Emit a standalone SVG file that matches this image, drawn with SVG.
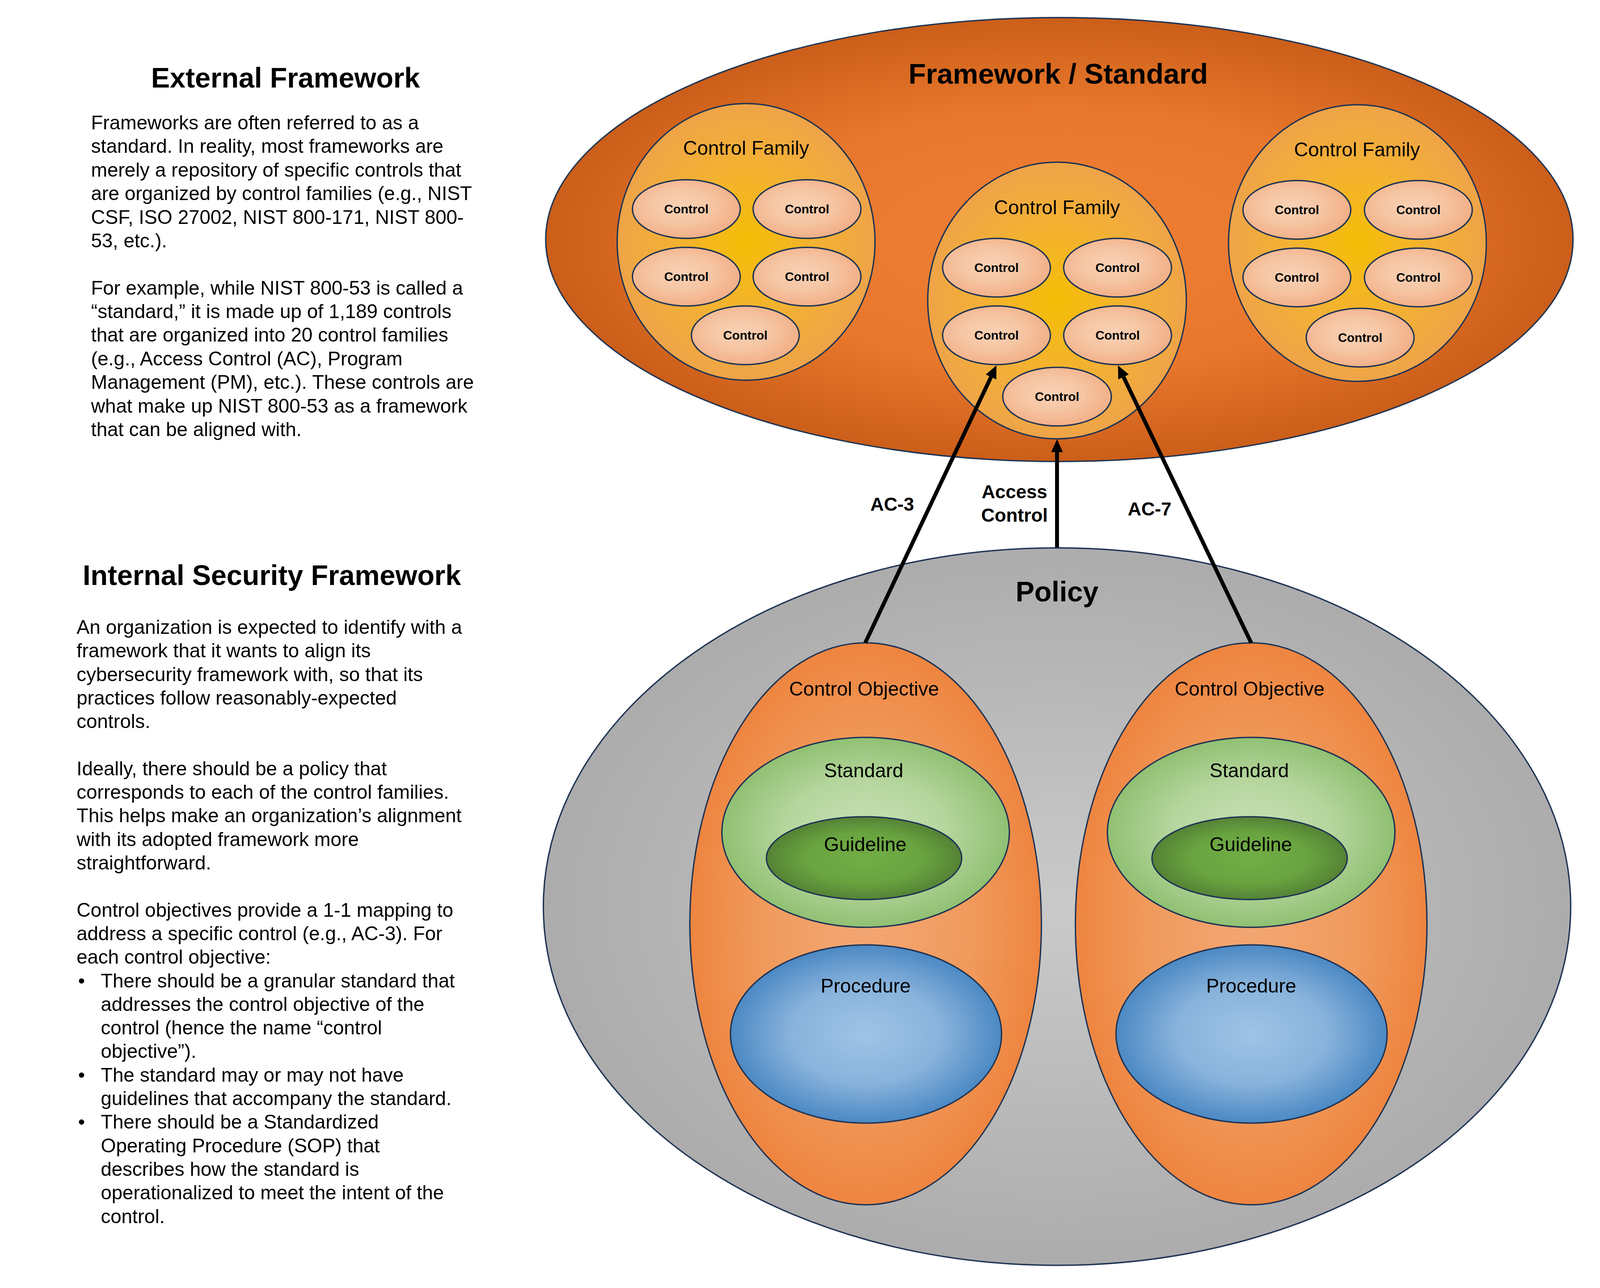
<svg xmlns="http://www.w3.org/2000/svg" width="4138" height="3296" viewBox="0 0 4138 3296">
<defs>
<radialGradient id="gFw" cx="50%" cy="50%" r="50%"><stop offset="0" stop-color="#EF8036"/><stop offset="0.6" stop-color="#E8772C"/><stop offset="1" stop-color="#CB5E19"/></radialGradient>
<radialGradient id="gFam" cx="50%" cy="50%" r="50%"><stop offset="0" stop-color="#F5BE05"/><stop offset="0.55" stop-color="#F3B133"/><stop offset="1" stop-color="#EFA448"/></radialGradient>
<radialGradient id="gCtl" cx="45%" cy="45%" r="55%"><stop offset="0" stop-color="#F8D1B5"/><stop offset="0.5" stop-color="#F6C6A4"/><stop offset="1" stop-color="#F2B088"/></radialGradient>
<radialGradient id="gPol" cx="50%" cy="50%" r="50%"><stop offset="0" stop-color="#CACACA"/><stop offset="1" stop-color="#ACACAC"/></radialGradient>
<radialGradient id="gCO" cx="50%" cy="50%" r="50%"><stop offset="0" stop-color="#F3A774"/><stop offset="0.6" stop-color="#F09A5C"/><stop offset="1" stop-color="#EE8540"/></radialGradient>
<radialGradient id="gStd" cx="50%" cy="50%" r="50%"><stop offset="0" stop-color="#C7E0B5"/><stop offset="0.55" stop-color="#B6D69E"/><stop offset="1" stop-color="#90C073"/></radialGradient>
<radialGradient id="gGui" cx="50%" cy="50%" r="50%"><stop offset="0" stop-color="#72AE46"/><stop offset="0.6" stop-color="#69A440"/><stop offset="1" stop-color="#548235"/></radialGradient>
<radialGradient id="gPro" cx="50%" cy="50%" r="50%"><stop offset="0" stop-color="#9FC4E6"/><stop offset="0.55" stop-color="#89B3DC"/><stop offset="1" stop-color="#4C89C4"/></radialGradient>
<marker id="arrow" markerUnits="userSpaceOnUse" markerWidth="33" markerHeight="32" viewBox="0 -16 33 32" refX="0" refY="0" orient="auto"><path d="M0,-15 L33,0 L0,15 Z" fill="#000"/></marker>
</defs>
<style>
.shape{stroke:#1E3454;stroke-width:3.5}
.t{font-family:"Liberation Sans",Arial,sans-serif;fill:#000}
.h{font-size:72px;font-weight:bold;text-anchor:middle}
.body{font-size:50px}
.lbl{font-size:50px;text-anchor:middle}
.ctl{font-size:32px;font-weight:bold;text-anchor:middle}
.conn{stroke:#000;stroke-width:10;fill:none;marker-end:url(#arrow)}
.clbl{font-size:48px;font-weight:bold}
</style>
<rect width="4138" height="3296" fill="#FFFFFF"/>

<g id="external-text" class="t">
<text class="t h" x="731" y="224">External Framework</text>
<text class="t body" x="233">
<tspan x="233" y="331">Frameworks are often referred to as a</tspan>
<tspan x="233" y="391">standard. In reality, most frameworks are</tspan>
<tspan x="233" y="452">merely a repository of specific controls that</tspan>
<tspan x="233" y="512">are organized by control families (e.g., NIST</tspan>
<tspan x="233" y="573">CSF, ISO 27002, NIST 800-171, NIST 800-</tspan>
<tspan x="233" y="633">53, etc.).</tspan>
<tspan x="233" y="754">For example, while NIST 800-53 is called a</tspan>
<tspan x="233" y="814">“standard,” it is made up of 1,189 controls</tspan>
<tspan x="233" y="874">that are organized into 20 control families</tspan>
<tspan x="233" y="935">(e.g., Access Control (AC), Program</tspan>
<tspan x="233" y="995">Management (PM), etc.). These controls are</tspan>
<tspan x="233" y="1056">what make up NIST 800-53 as a framework</tspan>
<tspan x="233" y="1116">that can be aligned with.</tspan>
</text>
</g>

<g id="internal-text" class="t">
<text class="t h" x="696" y="1497">Internal Security Framework</text>
<text class="t body">
<tspan x="196" y="1622">An organization is expected to identify with a</tspan>
<tspan x="196" y="1682">framework that it wants to align its</tspan>
<tspan x="196" y="1743">cybersecurity framework with, so that its</tspan>
<tspan x="196" y="1803">practices follow reasonably-expected</tspan>
<tspan x="196" y="1863">controls.</tspan>
<tspan x="196" y="1984">Ideally, there should be a policy that</tspan>
<tspan x="196" y="2044">corresponds to each of the control families.</tspan>
<tspan x="196" y="2104">This helps make an organization’s alignment</tspan>
<tspan x="196" y="2165">with its adopted framework more</tspan>
<tspan x="196" y="2225">straightforward.</tspan>
<tspan x="196" y="2346">Control objectives provide a 1-1 mapping to</tspan>
<tspan x="196" y="2406">address a specific control (e.g., AC-3). For</tspan>
<tspan x="196" y="2466">each control objective:</tspan>
<tspan x="200" y="2527">•</tspan><tspan x="258" y="2527">There should be a granular standard that</tspan>
<tspan x="258" y="2587">addresses the control objective of the</tspan>
<tspan x="258" y="2647">control (hence the name “control</tspan>
<tspan x="258" y="2707">objective”).</tspan>
<tspan x="200" y="2768">•</tspan><tspan x="258" y="2768">The standard may or may not have</tspan>
<tspan x="258" y="2828">guidelines that accompany the standard.</tspan>
<tspan x="200" y="2888">•</tspan><tspan x="258" y="2888">There should be a Standardized</tspan>
<tspan x="258" y="2949">Operating Procedure (SOP) that</tspan>
<tspan x="258" y="3009">describes how the standard is</tspan>
<tspan x="258" y="3069">operationalized to meet the intent of the</tspan>
<tspan x="258" y="3130">control.</tspan>
</text>
</g>

<g id="framework-standard">
<ellipse class="shape" cx="2712" cy="613" rx="1315" ry="568" fill="url(#gFw)"/>
<text class="t h" x="2709" y="214" style="font-size:73px">Framework / Standard</text>
</g>

<g id="family-left">
<ellipse class="shape" cx="1910" cy="619" rx="330" ry="354" fill="url(#gFam)"/>
<text class="t lbl" x="1910" y="396">Control Family</text>
<ellipse class="shape" cx="1757" cy="535" rx="138" ry="75" fill="url(#gCtl)"/><text class="t ctl" x="1757" y="546">Control</text>
<ellipse class="shape" cx="2066" cy="535" rx="138" ry="75" fill="url(#gCtl)"/><text class="t ctl" x="2066" y="546">Control</text>
<ellipse class="shape" cx="1757" cy="708" rx="138" ry="75" fill="url(#gCtl)"/><text class="t ctl" x="1757" y="719">Control</text>
<ellipse class="shape" cx="2066" cy="708" rx="138" ry="75" fill="url(#gCtl)"/><text class="t ctl" x="2066" y="719">Control</text>
<ellipse class="shape" cx="1908" cy="858" rx="138" ry="75" fill="url(#gCtl)"/><text class="t ctl" x="1908" y="869">Control</text>
</g>

<g id="family-center">
<ellipse class="shape" cx="2706" cy="769" rx="331" ry="354" fill="url(#gFam)"/>
<text class="t lbl" x="2706" y="548">Control Family</text>
<ellipse class="shape" cx="2551" cy="685" rx="138" ry="75" fill="url(#gCtl)"/><text class="t ctl" x="2551" y="696">Control</text>
<ellipse class="shape" cx="2861" cy="685" rx="138" ry="75" fill="url(#gCtl)"/><text class="t ctl" x="2861" y="696">Control</text>
<ellipse class="shape" cx="2551" cy="858" rx="138" ry="75" fill="url(#gCtl)"/><text class="t ctl" x="2551" y="869">Control</text>
<ellipse class="shape" cx="2861" cy="858" rx="138" ry="75" fill="url(#gCtl)"/><text class="t ctl" x="2861" y="869">Control</text>
<ellipse class="shape" cx="2706" cy="1015" rx="139" ry="75" fill="url(#gCtl)"/><text class="t ctl" x="2706" y="1026">Control</text>
</g>

<g id="family-right">
<ellipse class="shape" cx="3475" cy="622" rx="330" ry="354" fill="url(#gFam)"/>
<text class="t lbl" x="3474" y="400">Control Family</text>
<ellipse class="shape" cx="3320" cy="537" rx="138" ry="75" fill="url(#gCtl)"/><text class="t ctl" x="3320" y="548">Control</text>
<ellipse class="shape" cx="3631" cy="537" rx="138" ry="75" fill="url(#gCtl)"/><text class="t ctl" x="3631" y="548">Control</text>
<ellipse class="shape" cx="3320" cy="710" rx="138" ry="75" fill="url(#gCtl)"/><text class="t ctl" x="3320" y="721">Control</text>
<ellipse class="shape" cx="3631" cy="710" rx="138" ry="75" fill="url(#gCtl)"/><text class="t ctl" x="3631" y="721">Control</text>
<ellipse class="shape" cx="3482" cy="864" rx="138" ry="75" fill="url(#gCtl)"/><text class="t ctl" x="3482" y="875">Control</text>
</g>

<g id="policy">
<ellipse class="shape" cx="2706" cy="2320" rx="1315" ry="918" fill="url(#gPol)"/>
<text class="t h" x="2706" y="1539">Policy</text>
</g>

<g id="objective-left">
<ellipse class="shape" cx="2216" cy="2364" rx="450" ry="719" fill="url(#gCO)"/>
<text class="t lbl" x="2212" y="1780">Control Objective</text>
<ellipse class="shape" cx="2216" cy="2130" rx="368" ry="243" fill="url(#gStd)"/>
<text class="t lbl" x="2211" y="1989">Standard</text>
<ellipse class="shape" cx="2212" cy="2196" rx="250" ry="106" fill="url(#gGui)"/>
<text class="t lbl" x="2215" y="2178">Guideline</text>
<ellipse class="shape" cx="2217" cy="2646" rx="347" ry="228" fill="url(#gPro)"/>
<text class="t lbl" x="2216" y="2540">Procedure</text>
</g>

<g id="objective-right">
<ellipse class="shape" cx="3203" cy="2364" rx="450" ry="719" fill="url(#gCO)"/>
<text class="t lbl" x="3199" y="1780">Control Objective</text>
<ellipse class="shape" cx="3203" cy="2130" rx="368" ry="243" fill="url(#gStd)"/>
<text class="t lbl" x="3198" y="1989">Standard</text>
<ellipse class="shape" cx="3199" cy="2196" rx="250" ry="106" fill="url(#gGui)"/>
<text class="t lbl" x="3202" y="2178">Guideline</text>
<ellipse class="shape" cx="3204" cy="2646" rx="347" ry="228" fill="url(#gPro)"/>
<text class="t lbl" x="3203" y="2540">Procedure</text>
</g>

<g id="connectors">
<line class="conn" x1="2215" y1="1645" x2="2536.9" y2="964.8"/>
<line class="conn" x1="2706" y1="1401" x2="2706" y2="1157"/>
<line class="conn" x1="3203" y1="1645" x2="2876.3" y2="964.7"/>
<text class="t clbl" x="2228" y="1307">AC-3</text>
<text class="t clbl" x="2597" y="1275" text-anchor="middle">Access</text>
<text class="t clbl" x="2597" y="1335" text-anchor="middle">Control</text>
<text class="t clbl" x="2887" y="1319">AC-7</text>
</g>
</svg>
